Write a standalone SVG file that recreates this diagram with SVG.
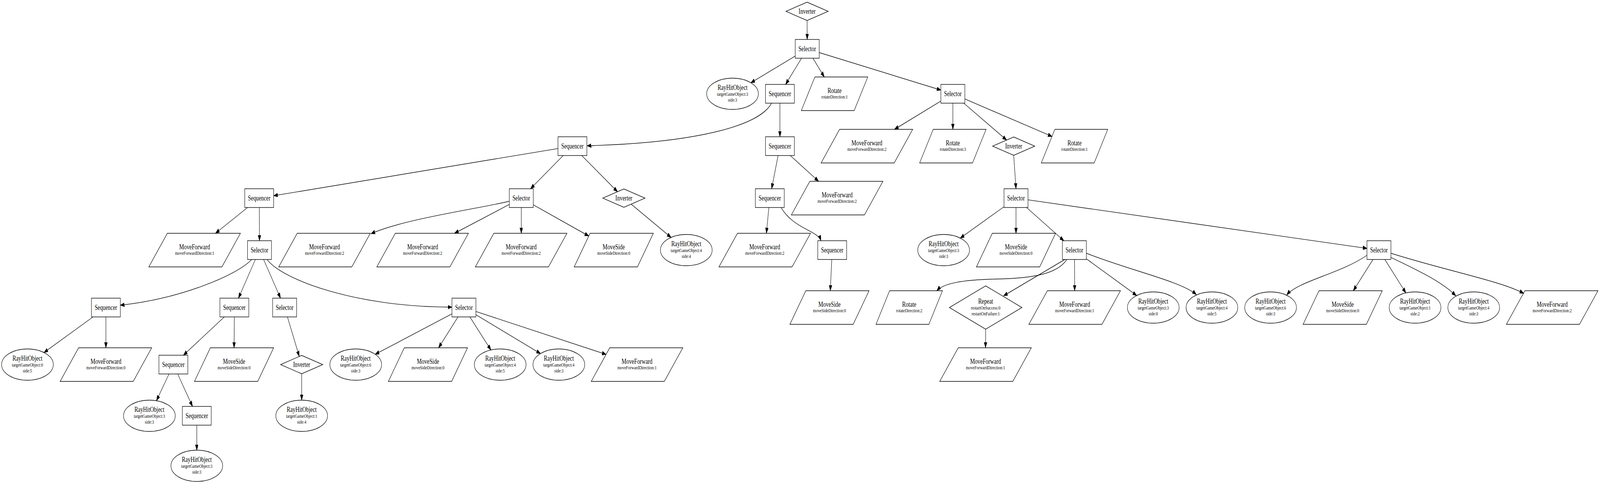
<svg xmlns="http://www.w3.org/2000/svg" xmlns:xlink="http://www.w3.org/1999/xlink" width="5537" height="1236" viewBox="0 0 5537 1236" preserveAspectRatio="none" style="width:100vw;height:100vh;display:block">
<style>
.sh{fill:#fff;stroke:#000;stroke-width:1.4}
.m{font-family:"Liberation Serif","Times New Roman",serif;font-size:18.67px;text-anchor:middle;fill:#000}
.s{font-family:"Liberation Serif","Times New Roman",serif;font-size:13.33px;text-anchor:middle;fill:#000}
.e{fill:none;stroke:#000;stroke-width:1.4;marker-end:url(#ah)}
</style>
<defs>
<marker id="ah" markerUnits="userSpaceOnUse" markerWidth="15" markerHeight="11" refX="14" refY="5" orient="auto"><path d="M0,0 L14,5 L0,10 z" fill="#000" stroke="#000" stroke-width="1"/></marker>
<polygon id="pmf" class="sh" points="-94.5,-43 158.5,-43 94.5,43 -158.5,43"/>
<polygon id="pms" class="sh" points="-82,-43 137,-43 82,43 -137,43"/>
<polygon id="prot" class="sh" points="-68,-43 115,-43 68,43 -115,43"/>
<ellipse id="ell" class="sh" cx="0" cy="0" rx="89.5" ry="40"/>
<polygon id="inv" class="sh" points="0,-23.5 73,0 0,23.5 -73,0"/>
<polygon id="rep" class="sh" points="0,-55.5 125.5,0 0,55.5 -125.5,0"/>
<rect id="bsel" class="sh" x="-41.5" y="-24" width="83" height="48"/>
<rect id="bseq" class="sh" x="-50" y="-24" width="100" height="48"/>
</defs>
<rect x="0" y="0" width="5537" height="1236" fill="#fff"/>
<g id="nodes">
<g id="n0" transform="translate(2793,29)"><use href="#inv"/><text class="m" y="5.6">Inverter</text></g>
<g id="n1" transform="translate(2793.5,125)"><use href="#bsel"/><text class="m" y="5.6">Selector</text></g>
<g id="n2" transform="translate(2535,240)"><use href="#ell"/><text class="m" y="-10.5">RayHitObject</text><text class="s" y="5">targetGameObject:3</text><text class="s" y="20">side:3</text></g>
<g id="n3" transform="translate(2699,240)"><use href="#bseq"/><text class="m" y="5.6">Sequencer</text></g>
<g id="n4" transform="translate(2888,240)"><use href="#prot"/><text class="m" y="-2.5">Rotate</text><text class="s" y="12.5">rotateDirection:1</text></g>
<g id="n5" transform="translate(3297.5,240)"><use href="#bsel"/><text class="m" y="5.6">Selector</text></g>
<g id="n6" transform="translate(1981,374)"><use href="#bseq"/><text class="m" y="5.6">Sequencer</text></g>
<g id="n7" transform="translate(2699,374)"><use href="#bseq"/><text class="m" y="5.6">Sequencer</text></g>
<g id="n8" transform="translate(3000,374)"><use href="#pmf"/><text class="m" y="-2.5">MoveForward</text><text class="s" y="12.5">moveForwardDirection:2</text></g>
<g id="n9" transform="translate(3297.5,374)"><use href="#prot"/><text class="m" y="-2.5">Rotate</text><text class="s" y="12.5">rotateDirection:3</text></g>
<g id="n10" transform="translate(3508,374)"><use href="#inv"/><text class="m" y="5.6">Inverter</text></g>
<g id="n11" transform="translate(3718.5,374)"><use href="#prot"/><text class="m" y="-2.5">Rotate</text><text class="s" y="12.5">rotateDirection:1</text></g>
<g id="n12" transform="translate(897,507)"><use href="#bseq"/><text class="m" y="5.6">Sequencer</text></g>
<g id="n13" transform="translate(1804,507)"><use href="#bsel"/><text class="m" y="5.6">Selector</text></g>
<g id="n14" transform="translate(2159,507)"><use href="#inv"/><text class="m" y="5.6">Inverter</text></g>
<g id="n15" transform="translate(2664,507)"><use href="#bseq"/><text class="m" y="5.6">Sequencer</text></g>
<g id="n16" transform="translate(2897,507)"><use href="#pmf"/><text class="m" y="-2.5">MoveForward</text><text class="s" y="12.5">moveForwardDirection:2</text></g>
<g id="n17" transform="translate(3516,507)"><use href="#bsel"/><text class="m" y="5.6">Selector</text></g>
<g id="n18" transform="translate(673.5,640)"><use href="#pmf"/><text class="m" y="-2.5">MoveForward</text><text class="s" y="12.5">moveForwardDirection:1</text></g>
<g id="n19" transform="translate(898,640)"><use href="#bsel"/><text class="m" y="5.6">Selector</text></g>
<g id="n20" transform="translate(1123,640)"><use href="#pmf"/><text class="m" y="-2.5">MoveForward</text><text class="s" y="12.5">moveForwardDirection:2</text></g>
<g id="n21" transform="translate(1462.5,640)"><use href="#pmf"/><text class="m" y="-2.5">MoveForward</text><text class="s" y="12.5">moveForwardDirection:2</text></g>
<g id="n22" transform="translate(1803.5,640)"><use href="#pmf"/><text class="m" y="-2.5">MoveForward</text><text class="s" y="12.5">moveForwardDirection:2</text></g>
<g id="n23" transform="translate(2124,640)"><use href="#pms"/><text class="m" y="-2.5">MoveSide</text><text class="s" y="12.5">moveSideDirection:0</text></g>
<g id="n24" transform="translate(2375,640)"><use href="#ell"/><text class="m" y="-10.5">RayHitObject</text><text class="s" y="5">targetGameObject:4</text><text class="s" y="20">side:4</text></g>
<g id="n25" transform="translate(2646.5,640)"><use href="#pmf"/><text class="m" y="-2.5">MoveForward</text><text class="s" y="12.5">moveForwardDirection:2</text></g>
<g id="n26" transform="translate(2880,640)"><use href="#bseq"/><text class="m" y="5.6">Sequencer</text></g>
<g id="n27" transform="translate(3265.5,640)"><use href="#ell"/><text class="m" y="-10.5">RayHitObject</text><text class="s" y="5">targetGameObject:3</text><text class="s" y="20">side:3</text></g>
<g id="n28" transform="translate(3516,640)"><use href="#pms"/><text class="m" y="-2.5">MoveSide</text><text class="s" y="12.5">moveSideDirection:0</text></g>
<g id="n29" transform="translate(3718,640)"><use href="#bsel"/><text class="m" y="5.6">Selector</text></g>
<g id="n30" transform="translate(4772,640)"><use href="#bsel"/><text class="m" y="5.6">Selector</text></g>
<g id="n31" transform="translate(366.5,787)"><use href="#bseq"/><text class="m" y="5.6">Sequencer</text></g>
<g id="n32" transform="translate(811,787)"><use href="#bseq"/><text class="m" y="5.6">Sequencer</text></g>
<g id="n33" transform="translate(985,787)"><use href="#bsel"/><text class="m" y="5.6">Selector</text></g>
<g id="n34" transform="translate(1605.5,787)"><use href="#bsel"/><text class="m" y="5.6">Selector</text></g>
<g id="n35" transform="translate(2870.5,787)"><use href="#pms"/><text class="m" y="-2.5">MoveSide</text><text class="s" y="12.5">moveSideDirection:0</text></g>
<g id="n36" transform="translate(3146.5,787)"><use href="#prot"/><text class="m" y="-2.5">Rotate</text><text class="s" y="12.5">rotateDirection:2</text></g>
<g id="n37" transform="translate(3411,787)"><use href="#rep"/><text class="m" y="-10.5">Repeat</text><text class="s" y="5">restartOnSuccess:0</text><text class="s" y="20">restartOnFailure:1</text></g>
<g id="n38" transform="translate(3719,787)"><use href="#pmf"/><text class="m" y="-2.5">MoveForward</text><text class="s" y="12.5">moveForwardDirection:1</text></g>
<g id="n39" transform="translate(3991,787)"><use href="#ell"/><text class="m" y="-10.5">RayHitObject</text><text class="s" y="5">targetGameObject:3</text><text class="s" y="20">side:0</text></g>
<g id="n40" transform="translate(4194,787)"><use href="#ell"/><text class="m" y="-10.5">RayHitObject</text><text class="s" y="5">targetGameObject:4</text><text class="s" y="20">side:5</text></g>
<g id="n41" transform="translate(4397,787)"><use href="#ell"/><text class="m" y="-10.5">RayHitObject</text><text class="s" y="5">targetGameObject:6</text><text class="s" y="20">side:3</text></g>
<g id="n42" transform="translate(4646.5,787)"><use href="#pms"/><text class="m" y="-2.5">MoveSide</text><text class="s" y="12.5">moveSideDirection:0</text></g>
<g id="n43" transform="translate(4897,787)"><use href="#ell"/><text class="m" y="-10.5">RayHitObject</text><text class="s" y="5">targetGameObject:1</text><text class="s" y="20">side:2</text></g>
<g id="n44" transform="translate(5100,787)"><use href="#ell"/><text class="m" y="-10.5">RayHitObject</text><text class="s" y="5">targetGameObject:4</text><text class="s" y="20">side:3</text></g>
<g id="n45" transform="translate(5371.5,787)"><use href="#pmf"/><text class="m" y="-2.5">MoveForward</text><text class="s" y="12.5">moveForwardDirection:2</text></g>
<g id="n46" transform="translate(95,933)"><use href="#ell"/><text class="m" y="-10.5">RayHitObject</text><text class="s" y="5">targetGameObject:0</text><text class="s" y="20">side:5</text></g>
<g id="n47" transform="translate(366.5,933)"><use href="#pmf"/><text class="m" y="-2.5">MoveForward</text><text class="s" y="12.5">moveForwardDirection:0</text></g>
<g id="n48" transform="translate(600,933)"><use href="#bseq"/><text class="m" y="5.6">Sequencer</text></g>
<g id="n49" transform="translate(810,933)"><use href="#pms"/><text class="m" y="-2.5">MoveSide</text><text class="s" y="12.5">moveSideDirection:0</text></g>
<g id="n50" transform="translate(1044,933)"><use href="#inv"/><text class="m" y="5.6">Inverter</text></g>
<g id="n51" transform="translate(1231,933)"><use href="#ell"/><text class="m" y="-10.5">RayHitObject</text><text class="s" y="5">targetGameObject:6</text><text class="s" y="20">side:3</text></g>
<g id="n52" transform="translate(1481,933)"><use href="#pms"/><text class="m" y="-2.5">MoveSide</text><text class="s" y="12.5">moveSideDirection:0</text></g>
<g id="n53" transform="translate(1731,933)"><use href="#ell"/><text class="m" y="-10.5">RayHitObject</text><text class="s" y="5">targetGameObject:4</text><text class="s" y="20">side:5</text></g>
<g id="n54" transform="translate(1934,933)"><use href="#ell"/><text class="m" y="-10.5">RayHitObject</text><text class="s" y="5">targetGameObject:4</text><text class="s" y="20">side:3</text></g>
<g id="n55" transform="translate(2204.5,933)"><use href="#pmf"/><text class="m" y="-2.5">MoveForward</text><text class="s" y="12.5">moveForwardDirection:1</text></g>
<g id="n56" transform="translate(3410.5,933)"><use href="#pmf"/><text class="m" y="-2.5">MoveForward</text><text class="s" y="12.5">moveForwardDirection:1</text></g>
<g id="n57" transform="translate(517,1064)"><use href="#ell"/><text class="m" y="-10.5">RayHitObject</text><text class="s" y="5">targetGameObject:3</text><text class="s" y="20">side:3</text></g>
<g id="n58" transform="translate(681,1064)"><use href="#bseq"/><text class="m" y="5.6">Sequencer</text></g>
<g id="n59" transform="translate(1044,1064)"><use href="#ell"/><text class="m" y="-10.5">RayHitObject</text><text class="s" y="5">targetGameObject:1</text><text class="s" y="20">side:4</text></g>
<g id="n60" transform="translate(681,1192)"><use href="#ell"/><text class="m" y="-10.5">RayHitObject</text><text class="s" y="5">targetGameObject:3</text><text class="s" y="20">side:3</text></g>
</g>
<g id="edges">
<path class="e" d="M2793,52.5 L2793.5,101"/>
<path class="e" d="M2752,143.5 L2598.4,211.8"/>
<path class="e" d="M2773.8,149 L2718.7,216"/>
<path class="e" d="M2813.2,149 L2852.7,197"/>
<path class="e" d="M2835,134.5 L3256,230.5"/>
<path class="e" d="M2670,264 C2630,320 2420,365 2032,373"/>
<path class="e" d="M2699,264 L2699,350"/>
<path class="e" d="M3256,258.7 L3095.5,331"/>
<path class="e" d="M3297.5,264 L3297.5,331"/>
<path class="e" d="M3335.2,264 L3483.5,358.4"/>
<path class="e" d="M3339,253.2 L3640.6,349.2"/>
<path class="e" d="M1931,380.1 L947,500.9"/>
<path class="e" d="M1949,398 L1836,483"/>
<path class="e" d="M2013.1,398 L2137,490.6"/>
<path class="e" d="M2692.7,398 L2670.3,483"/>
<path class="e" d="M2734.7,398 L2833,464"/>
<path class="e" d="M3508,397.5 L3516,483"/>
<path class="e" d="M856.7,531 L745.8,597"/>
<path class="e" d="M897.5,531 L898,616"/>
<path class="e" d="M1762.5,515 C1650,535 1400,560 1284,598"/>
<path class="e" d="M1762.5,523.2 L1572.9,597"/>
<path class="e" d="M1804,531 L1804,597"/>
<path class="e" d="M1845.5,524.2 L2037.5,604"/>
<path class="e" d="M2184.1,522.4 L2322.4,607.6"/>
<path class="e" d="M2660.8,531 L2652.2,597"/>
<path class="e" d="M2703,531 C2745,585 2830,590 2841,616"/>
<path class="e" d="M3474.5,529 L3323.1,609.4"/>
<path class="e" d="M3516,531 L3516,597"/>
<path class="e" d="M3552.5,531 L3681.6,616"/>
<path class="e" d="M3557.5,511.4 L4730.5,635.6"/>
<path class="e" d="M871,664 C820,705 620,765 416.5,781"/>
<path class="e" d="M883.8,664 L825.2,763"/>
<path class="e" d="M912.2,664 L970.8,763"/>
<path class="e" d="M924,664 C975,715 1230,786 1564,786"/>
<path class="e" d="M2878.4,664 L2873.3,744"/>
<path class="e" d="M3692,664 C3660,700 3580,712 3450,714 C3330,716 3265,725 3242,744"/>
<path class="e" d="M3685,664 L3473,757"/>
<path class="e" d="M3718.5,664 L3719,744"/>
<path class="e" d="M3759.5,662.3 L3933.8,756.2"/>
<path class="e" d="M3759.5,648 C3900,690 4090,720 4140,754"/>
<path class="e" d="M4731,653 C4640,700 4490,720 4453,755"/>
<path class="e" d="M4751.5,664 L4683.2,744"/>
<path class="e" d="M4792.4,664 L4865.2,749.6"/>
<path class="e" d="M4813.5,658.6 C4900,690 4990,720 5038,757"/>
<path class="e" d="M4813.5,648 C4990,690 5200,720 5273,751"/>
<path class="e" d="M321.9,811 L152.2,902.2"/>
<path class="e" d="M366.5,811 L366.5,890"/>
<path class="e" d="M776.3,811 L634.7,909"/>
<path class="e" d="M811,811 L810,890"/>
<path class="e" d="M994.7,811 L1035.6,912.2"/>
<path class="e" d="M1564,803.2 L1298.4,906.7"/>
<path class="e" d="M1585,811 L1517.7,890"/>
<path class="e" d="M1626.1,811 L1698.9,895.7"/>
<path class="e" d="M1647,805.4 L1870.5,904.8"/>
<path class="e" d="M1647,797.1 L2097.4,906.9"/>
<path class="e" d="M3411,842.5 L3410.5,890"/>
<path class="e" d="M584.8,957 L541.4,1025.5"/>
<path class="e" d="M614.8,957 L666.2,1040"/>
<path class="e" d="M1044,956.5 L1044,1024"/>
<path class="e" d="M681,1088 L681,1152"/>
</g>
</svg>
